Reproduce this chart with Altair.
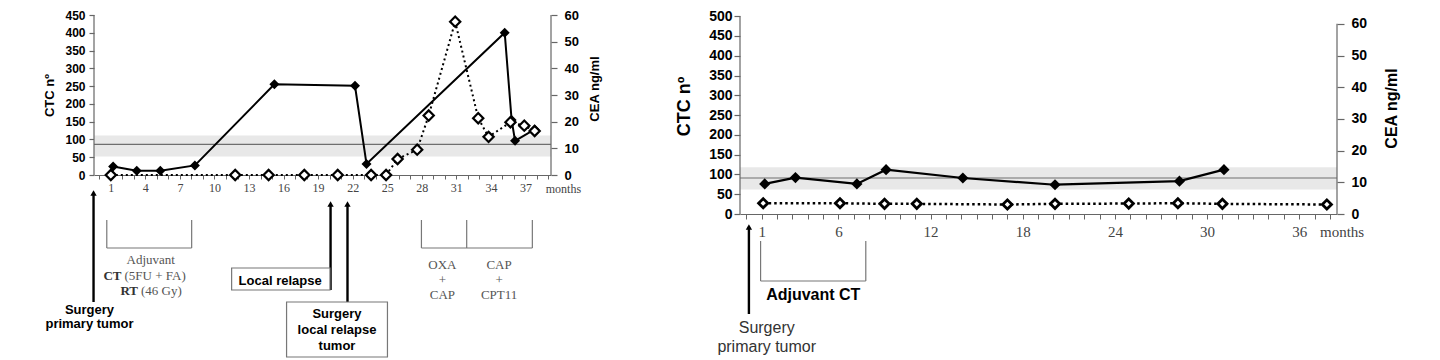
import altair as alt
import pandas as pd

# ---------------- data: left panel ----------------
a_ctc_month = [1.2, 3.25, 5.3, 8.3, 15.2, 22.2, 23.2, 35.2, 35.8, 36.1, 37.8]
a_ctc_value = [24, 12, 12, 27, 255, 251, 31, 400, 155, 96, 128]
a_cea_month = [1.0, 11.8, 14.7, 17.8, 20.7, 23.6, 24.9, 25.9, 27.6, 28.6, 30.9, 32.9, 33.8, 35.7, 36.9, 37.8]
a_cea_value = [0, 0, 0, 0, 0, 0, 0, 6, 9.5, 22.3, 57.5, 21.3, 14.3, 19.8, 18.5, 16.5]
a_ctc_ticks = [0, 50, 100, 150, 200, 250, 300, 350, 400, 450]
a_cea_ticks = [0, 10, 20, 30, 40, 50, 60]
a_month_labels = [1, 4, 7, 10, 13, 16, 19, 22, 25, 28, 31, 34, 37]
a_band = [52, 111]
a_ref = [86]

# ---------------- data: right panel ----------------
b_ctc_month = [1.2, 3.2, 7.2, 9.1, 14.1, 20.1, 28.2, 31.1]
b_ctc_value = [76, 92, 76, 112, 91, 74, 83, 112]
b_cea_month = [1.1, 6.1, 9.0, 11.1, 17.0, 20.1, 24.9, 28.1, 31.0, 37.8]
b_cea_value = [3.4, 3.4, 3.2, 3.2, 3.0, 3.2, 3.3, 3.4, 3.2, 3.0]
b_ctc_ticks = [0, 50, 100, 150, 200, 250, 300, 350, 400, 450, 500]
b_cea_ticks = [0, 10, 20, 30, 40, 50, 60]
b_month_labels = [1, 6, 12, 18, 24, 30, 36]
b_band = [62, 118]
b_ref = [91]

SANS = "Liberation Sans"
SERIF = "Liberation Serif"
AX = "#666666"


def make_panel(p):
    W, H = p["W"], p["H"]
    xs = alt.Scale(domain=p["xdom"], nice=False, zero=False)
    lab = ",".join(str(v) for v in p["month_labels"])
    xa = alt.Axis(values=list(range(0, p["xmax_tick"] + 1)), title=None, grid=False,
                  labelExpr=f"indexof([{lab}], datum.value) >= 0 ? datum.label : ''",
                  labelOverlap=False, labelFlush=False, tickSize=p["xtick"], labelPadding=p["xlabpad"],
                  labelFont=SERIF, labelFontSize=p["xfs"], labelColor="#444444",
                  domainColor=AX, tickColor=AX, domainWidth=1.2, tickWidth=1)

    def X(f):
        return alt.X(f"{f}:Q", scale=xs, axis=xa)

    ys1 = alt.Scale(domain=[0, p["ctc_max"]], nice=False, zero=False)
    ys2 = alt.Scale(domain=[0, p["cea_max"]], nice=False, zero=False)
    ya1 = alt.Axis(values=p["ctc_ticks"], orient="left", domain=False, grid=False, title="CTC nº",
                   tickSize=p["l_tick"], labelPadding=p["l_pad"], tickColor=AX, tickWidth=1.2,
                   labelFont=SANS, labelFontWeight="bold", labelFontSize=p["l_fs"], labelColor="black",
                   titleFont=SANS, titleFontWeight="bold", titleFontSize=p["l_tfs"], titleColor="black",
                   titleAngle=270, titleAlign="center", titleBaseline="middle",
                   titleX=p["l_tx"], titleY=p["l_ty"])
    ya2 = alt.Axis(values=p["cea_ticks"], orient="right", domain=False, grid=False, title="CEA ng/ml",
                   tickSize=p["r_tick"], labelPadding=p["r_pad"], tickColor=AX, tickWidth=1.2,
                   labelFont=SANS, labelFontWeight="bold", labelFontSize=p["r_fs"], labelColor="black",
                   titleFont=SANS, titleFontWeight="bold", titleFontSize=p["r_tfs"], titleColor="black",
                   titleAngle=270, titleAlign="center", titleBaseline="middle",
                   titleX=p["r_tx"], titleY=p["r_ty"])

    def Y1(f):
        return alt.Y(f"{f}:Q", scale=ys1, axis=ya1)

    def Y2(f):
        return alt.Y(f"{f}:Q", scale=ys2, axis=ya2)

    xlo, xhi = p["xdom"]
    ctc_df = pd.DataFrame({"month": p["ctc_month"], "ctc": p["ctc_value"]})
    cea_df = pd.DataFrame({"month": p["cea_month"], "cea": p["cea_value"]})
    band_df = pd.DataFrame({"m": [xlo], "m2": [xhi], "lo": [p["band"][0]], "hi": [p["band"][1]], "ref": p["ref"]})
    axl_df = pd.DataFrame({"m": [xlo], "lo": [0], "hi": [p["ctc_ticks"][-1]]})
    axr_df = pd.DataFrame({"m": [xhi], "lo": [0], "hi": [p["cea_ticks"][-1]]})

    layers1 = [
        alt.Chart(band_df).mark_rect(color="#e8e8e8").encode(x=X("m"), x2="m2", y=Y1("lo"), y2="hi"),
        alt.Chart(band_df).mark_rule(color="#6e6e6e", strokeWidth=1.2).encode(x=X("m"), x2="m2", y=Y1("ref")),
        alt.Chart(axl_df).mark_rule(color=AX, strokeWidth=1.2).encode(x=X("m"), y=Y1("lo"), y2="hi"),
        alt.Chart(ctc_df).mark_line(color="black", strokeWidth=p["lw"]).encode(x=X("month"), y=Y1("ctc")),
        alt.Chart(ctc_df).mark_point(shape="diamond", filled=True, color="black", opacity=1,
                                     size=p["fsize"]).encode(x=X("month"), y=Y1("ctc")),
    ]

    # annotations (pixel y relative to plot top)
    for a in p["arrows"]:
        d = pd.DataFrame({"m": [a["m"]]})
        layers1.append(alt.Chart(d).mark_rule(color="black", strokeWidth=2.4).encode(
            x=X("m"), y=alt.value(a["top"] + 4), y2=alt.value(a["bottom"])))
        layers1.append(alt.Chart(d).mark_point(shape="triangle-up", filled=True, color="black", opacity=1,
                                               size=40).encode(x=X("m"), y=alt.value(a["top"] + 4)))
    for b in p["brackets"]:
        d = pd.DataFrame({"m": b["ms"]})
        layers1.append(alt.Chart(d).mark_rule(color="#777777", strokeWidth=1.2).encode(
            x=X("m"), y=alt.value(b["top"]), y2=alt.value(b["bottom"])))
        d2 = pd.DataFrame({"m": [b["ms"][0]], "m2": [b["ms"][-1]]})
        layers1.append(alt.Chart(d2).mark_rule(color="#777777", strokeWidth=1.2).encode(
            x=X("m"), x2="m2", y=alt.value(b["bottom"])))
    for bx in p["boxes"]:
        d = pd.DataFrame({"m": [bx["m"]], "m2": [bx["m2"]]})
        layers1.append(alt.Chart(d).mark_rect(fill="white", stroke="#777777", strokeWidth=1.2).encode(
            x=X("m"), x2="m2", y=alt.value(bx["top"]), y2=alt.value(bx["bottom"])))
    for t in p["texts"]:
        d = pd.DataFrame({"m": [t["m"]], "t": [t["t"]]})
        layers1.append(alt.Chart(d).mark_text(font=t.get("font", SANS), fontSize=t["fs"],
                                              fontWeight=t.get("fw", "normal"), color=t.get("c", "black"),
                                              align=t.get("align", "center"), baseline="middle").encode(
            x=X("m"), y=alt.value(t["y"]), text="t:N"))

    layers2 = [
        alt.Chart(axr_df).mark_rule(color=AX, strokeWidth=1.2).encode(x=X("m"), y=Y2("lo"), y2="hi"),
        alt.Chart(cea_df).mark_line(color="black", strokeWidth=p["dw"], strokeDash=p["dash"]).encode(
            x=X("month"), y=Y2("cea")),
        alt.Chart(cea_df).mark_point(shape="diamond", filled=True, fill="white", stroke="black", opacity=1,
                                     fillOpacity=1, strokeWidth=p["osw"], size=p["osize"]).encode(
            x=X("month"), y=Y2("cea")),
    ]

    return alt.layer(alt.layer(*layers1), alt.layer(*layers2)).resolve_scale(y="independent").properties(
        width=W, height=H)


SER_C = "#555555"
left = dict(
    W=457, H=160, xdom=[-0.46, 39.22], xmax_tick=39, month_labels=a_month_labels,
    xtick=4, xlabpad=3, xfs=12,
    ctc_max=450, cea_max=60, ctc_ticks=a_ctc_ticks, cea_ticks=a_cea_ticks,
    l_tick=5, l_pad=4, l_fs=12, l_tfs=13, l_tx=-45, l_ty=80,
    r_tick=6, r_pad=7, r_fs=13, r_tfs=13, r_tx=43, r_ty=73.5,
    ctc_month=a_ctc_month, ctc_value=a_ctc_value, cea_month=a_cea_month, cea_value=a_cea_value,
    band=a_band, ref=a_ref, lw=2, fsize=100, dw=2, dash=[2, 3], osw=2.2, osize=105,
    arrows=[dict(m=-0.5, top=174, bottom=287), dict(m=20.08, top=185, bottom=275),
            dict(m=21.55, top=185, bottom=287)],
    brackets=[dict(ms=[0.65, 8.02], top=205, bottom=233), dict(ms=[27.97, 31.9, 37.6], top=205, bottom=233)],
    boxes=[dict(m=11.49, m2=20.03, top=253, bottom=275), dict(m=16.26, m2=25.02, top=287, bottom=342)],
    texts=[
        dict(m=40.3, y=174, t="months", font=SERIF, fs=12, c="#444444"),
        dict(m=-0.85, y=295, t="Surgery", fs=13, fw="bold"),
        dict(m=-0.85, y=309, t="primary tumor", fs=13, fw="bold"),
        dict(m=4.47, y=245, t="Adjuvant", font=SERIF, fs=13, c=SER_C),
        dict(m=1.93, y=261, t="CT", font=SERIF, fs=13, fw="bold", c="#333333", align="right"),
        dict(m=2.19, y=261, t="(5FU + FA)", font=SERIF, fs=13, c=SER_C, align="left"),
        dict(m=3.36, y=276, t="RT", font=SERIF, fs=13, fw="bold", c="#333333", align="right"),
        dict(m=3.62, y=276, t="(46 Gy)", font=SERIF, fs=13, c=SER_C, align="left"),
        dict(m=15.7, y=265.5, t="Local relapse", fs=13, fw="bold"),
        dict(m=20.64, y=299, t="Surgery", fs=13, fw="bold"),
        dict(m=20.64, y=315, t="local relapse", fs=13, fw="bold"),
        dict(m=20.64, y=330.5, t="tumor", fs=13, fw="bold"),
        dict(m=29.79, y=249.5, t="OXA", font=SERIF, fs=13, c=SER_C),
        dict(m=29.79, y=264.5, t="+", font=SERIF, fs=13, c=SER_C),
        dict(m=29.79, y=280, t="CAP", font=SERIF, fs=13, c=SER_C),
        dict(m=34.71, y=249.5, t="CAP", font=SERIF, fs=13, c=SER_C),
        dict(m=34.71, y=264.5, t="+", font=SERIF, fs=13, c=SER_C),
        dict(m=34.71, y=280, t="CPT11", font=SERIF, fs=13, c=SER_C),
    ],
)

right = dict(
    W=597, H=199, xdom=[-0.41, 38.46], xmax_tick=38, month_labels=b_month_labels,
    xtick=5, xlabpad=5, xfs=15,
    ctc_max=503, cea_max=62.8, ctc_ticks=b_ctc_ticks, cea_ticks=b_cea_ticks,
    l_tick=6, l_pad=2, l_fs=14, l_tfs=18, l_tx=-56, l_ty=91,
    r_tick=7, r_pad=7, r_fs=14, r_tfs=16, r_tx=54, r_ty=93,
    ctc_month=b_ctc_month, ctc_value=b_ctc_value, cea_month=b_cea_month, cea_value=b_cea_value,
    band=b_band, ref=b_ref, lw=2.2, fsize=125, dw=2.5, dash=[2.5, 3], osw=2.8, osize=85,
    arrows=[dict(m=0.17, top=208, bottom=299)],
    brackets=[dict(ms=[0.93, 7.78], top=226, bottom=266)],
    boxes=[],
    texts=[
        dict(m=38.79, y=217, t="months", font=SERIF, fs=15, c="#444444"),
        dict(m=4.36, y=279.5, t="Adjuvant CT", fs=16, fw="bold"),
        dict(m=1.33, y=313, t="Surgery", fs=16, c="#333333"),
        dict(m=1.33, y=332, t="primary tumor", fs=16, c="#333333"),
    ],
)

chart = alt.hconcat(make_panel(left), make_panel(right), spacing=74).properties(
    padding={"left": 35, "top": 1, "right": 5, "bottom": 0}, background="white"
).configure_view(strokeWidth=0)

chart.save("out.html", embed_options={"renderer": "svg", "actions": False})
